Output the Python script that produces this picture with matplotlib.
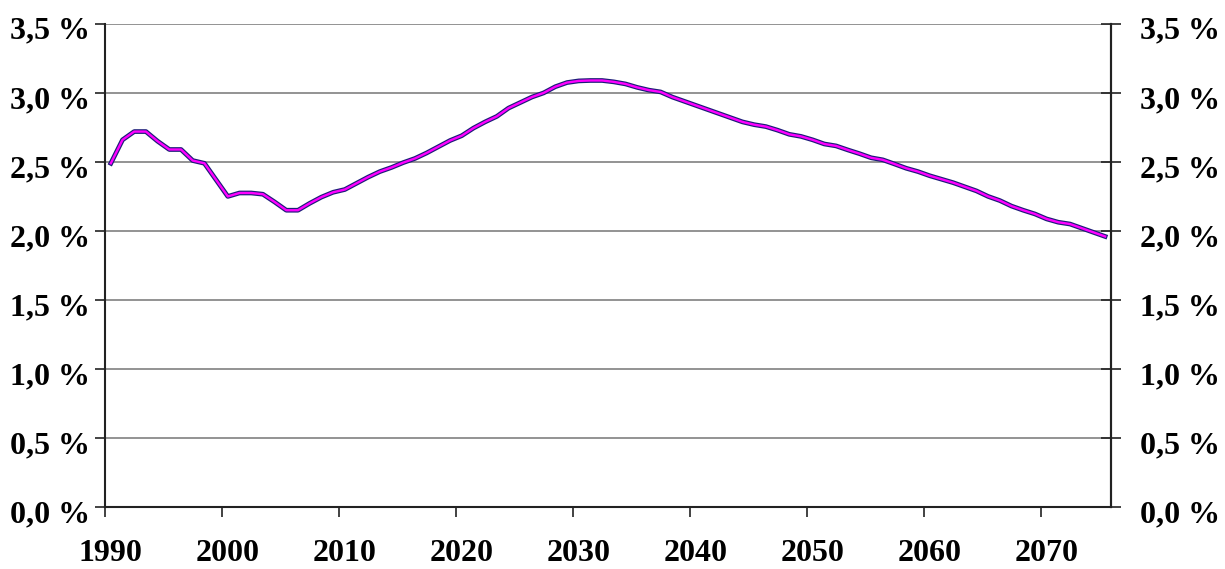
import matplotlib.pyplot as plt
import matplotlib.patheffects as pe
import matplotlib.transforms as mtransforms
from matplotlib.ticker import FixedLocator, NullFormatter

years = list(range(1990, 2076))
share = [
    2.49, 2.66, 2.72, 2.72, 2.65, 2.59, 2.59, 2.51, 2.49, 2.37,   # 1990-1999
    2.25, 2.275, 2.275, 2.266, 2.21, 2.15, 2.15, 2.20, 2.245, 2.28,  # 2000-2009
    2.30, 2.345, 2.39, 2.43, 2.46, 2.495, 2.525, 2.565, 2.61, 2.655,  # 2010-2019
    2.69, 2.745, 2.79, 2.83, 2.89, 2.93, 2.97, 3.00, 3.045, 3.075,  # 2020-2029
    3.087, 3.09, 3.09, 3.08, 3.065, 3.04, 3.02, 3.007, 2.97, 2.94,  # 2030-2039
    2.91, 2.88, 2.85, 2.82, 2.79, 2.77, 2.756, 2.73, 2.70, 2.685,  # 2040-2049
    2.66, 2.63, 2.616, 2.587, 2.56, 2.53, 2.515, 2.485, 2.454, 2.43,  # 2050-2059
    2.40, 2.375, 2.35, 2.32, 2.29, 2.25, 2.22, 2.18, 2.15, 2.123,  # 2060-2069
    2.087, 2.063, 2.05, 2.02, 1.99, 1.96,  # 2070-2075
]
y_ticks = [0.0, 0.5, 1.0, 1.5, 2.0, 2.5, 3.0, 3.5]
y_labels = [f"{v:.1f} %".replace(".", ",") for v in y_ticks]
year_labels = list(range(1990, 2071, 10))

plt.rcParams['font.family'] = ['Liberation Serif', 'DejaVu Serif']
plt.rcParams['font.weight'] = 'bold'

fig = plt.figure(figsize=(12.25, 5.69), dpi=100)
ax = fig.add_axes([0.0857, 0.109, 0.8212, 0.849])

ax.plot(years, share, color='#ff00ff', lw=1.7, solid_joinstyle='round',
        path_effects=[pe.Stroke(linewidth=3.4, foreground='#1c1c78'), pe.Normal()],
        zorder=3)

ax.set_xlim(1989.5, 2075.5)
ax.set_ylim(0, 3.5)

# category boundaries carry the tick marks, labels sit on the year itself
ax.xaxis.set_major_locator(FixedLocator([y - 0.5 for y in year_labels]))
ax.xaxis.set_major_formatter(NullFormatter())
ax.xaxis.set_minor_locator(FixedLocator(year_labels))
ax.set_xticklabels([str(y) for y in year_labels], minor=True)
ax.tick_params(axis='x', which='major', direction='out', length=7, width=1.2, color='#222222')
ax.tick_params(axis='x', which='minor', length=0, pad=23, labelsize=23)

ax.set_yticks(y_ticks)
ax.set_yticklabels(y_labels)
ax.tick_params(axis='y', direction='out', length=7, width=1.2, pad=4, labelsize=23, color='#222222')
ax.grid(axis='y', color='#808080', lw=1.2, zorder=0)

for side in ['left', 'bottom', 'right']:
    ax.spines[side].set_color('#222222')
    ax.spines[side].set_linewidth(1.5)
ax.spines['top'].set_visible(False)

ax2 = ax.twinx()
ax2.set_ylim(0, 3.5)
ax2.set_yticks(y_ticks)
ax2.set_yticklabels(y_labels)
ax2.tick_params(axis='y', direction='inout', length=14, width=1.2, pad=14, labelsize=23, color='#222222')
for side in ['left', 'bottom', 'top']:
    ax2.spines[side].set_visible(False)
ax2.spines['right'].set_color('#222222')
ax2.spines['right'].set_linewidth(1.5)

# y labels sit a few pixels below their gridlines
shift = mtransforms.ScaledTranslation(0, -4 / 100, fig.dpi_scale_trans)
for lab in ax.get_yticklabels() + ax2.get_yticklabels():
    lab.set_transform(lab.get_transform() + shift)

fig.savefig('out.png', dpi=100)
